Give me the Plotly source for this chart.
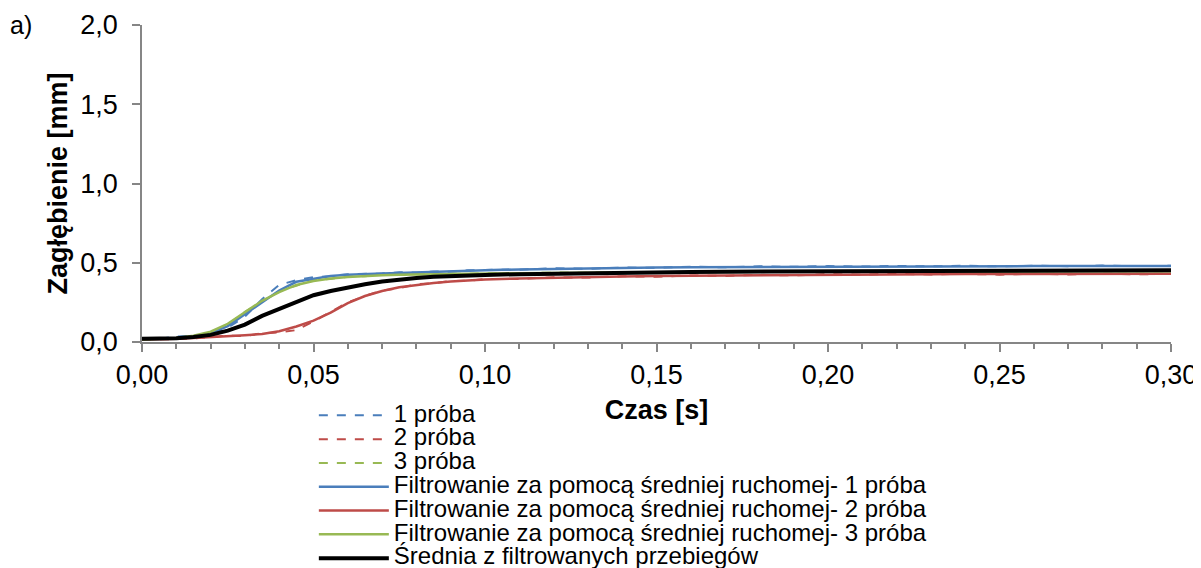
import plotly.graph_objects as go

# ---- data ----
czas = [0.000, 0.005, 0.010, 0.015, 0.020, 0.025, 0.030, 0.035, 0.040, 0.045,
        0.050, 0.055, 0.060, 0.065, 0.070, 0.075, 0.080, 0.085, 0.090, 0.095,
        0.100, 0.110, 0.120, 0.130, 0.140, 0.150, 0.160, 0.170, 0.180, 0.190,
        0.200, 0.210, 0.220, 0.230, 0.240, 0.250, 0.260, 0.270, 0.280, 0.290,
        0.300]

proba1 = [0.015, 0.020, 0.035, 0.040, 0.050, 0.090, 0.160, 0.270, 0.360, 0.390,
          0.410, 0.415, 0.428, 0.430, 0.432, 0.440, 0.437, 0.445, 0.443, 0.452,
          0.455, 0.456, 0.465, 0.462, 0.470, 0.468, 0.475, 0.471, 0.478, 0.474,
          0.479, 0.476, 0.480, 0.477, 0.481, 0.477, 0.481, 0.478, 0.482, 0.479,
          0.481]

proba2 = [0.015, 0.015, 0.018, 0.022, 0.030, 0.040, 0.038, 0.055, 0.060, 0.075,
          0.130, 0.190, 0.250, 0.290, 0.325, 0.340, 0.365, 0.370, 0.385, 0.386,
          0.397, 0.398, 0.408, 0.407, 0.415, 0.412, 0.420, 0.417, 0.424, 0.420,
          0.428, 0.424, 0.430, 0.426, 0.430, 0.425, 0.431, 0.426, 0.431, 0.427,
          0.430]

proba3 = [0.015, 0.017, 0.022, 0.035, 0.060, 0.110, 0.190, 0.255, 0.320, 0.355,
          0.390, 0.398, 0.412, 0.415, 0.423, 0.422, 0.428, 0.427, 0.432, 0.430,
          0.434, 0.433, 0.438, 0.437, 0.441, 0.439, 0.443, 0.441, 0.444, 0.442,
          0.445, 0.443, 0.446, 0.444, 0.447, 0.445, 0.447, 0.445, 0.448, 0.446,
          0.447]

filtr1 = [0.015, 0.018, 0.024, 0.034, 0.055, 0.100, 0.175, 0.250, 0.325, 0.380,
          0.400, 0.416, 0.425, 0.430, 0.432, 0.435, 0.439, 0.442, 0.445, 0.449,
          0.453, 0.458, 0.462, 0.465, 0.468, 0.470, 0.472, 0.473, 0.475, 0.476,
          0.477, 0.477, 0.478, 0.478, 0.478, 0.479, 0.479, 0.479, 0.480, 0.480,
          0.480]

filtr2 = [0.015, 0.016, 0.020, 0.025, 0.030, 0.036, 0.043, 0.050, 0.068, 0.098,
          0.135, 0.185, 0.245, 0.290, 0.322, 0.345, 0.360, 0.372, 0.381, 0.388,
          0.394, 0.401, 0.406, 0.410, 0.413, 0.416, 0.418, 0.420, 0.422, 0.424,
          0.426, 0.427, 0.428, 0.428, 0.429, 0.429, 0.429, 0.430, 0.430, 0.430,
          0.430]

filtr3 = [0.015, 0.018, 0.025, 0.040, 0.065, 0.115, 0.185, 0.260, 0.315, 0.360,
          0.385, 0.400, 0.410, 0.417, 0.421, 0.424, 0.426, 0.428, 0.430, 0.431,
          0.432, 0.434, 0.436, 0.438, 0.439, 0.440, 0.441, 0.442, 0.443, 0.443,
          0.444, 0.444, 0.445, 0.445, 0.445, 0.446, 0.446, 0.446, 0.446, 0.447,
          0.447]

srednia = [0.020, 0.021, 0.024, 0.032, 0.045, 0.072, 0.110, 0.165, 0.210, 0.250,
           0.295, 0.322, 0.345, 0.364, 0.382, 0.395, 0.404, 0.411, 0.416, 0.420,
           0.423, 0.428, 0.432, 0.435, 0.438, 0.440, 0.442, 0.444, 0.445, 0.446,
           0.447, 0.448, 0.449, 0.449, 0.450, 0.450, 0.451, 0.451, 0.451, 0.452,
           0.452]

nazwy = ["1 próba", "2 próba", "3 próba",
         "Filtrowanie za pomocą średniej ruchomej- 1 próba",
         "Filtrowanie za pomocą średniej ruchomej- 2 próba",
         "Filtrowanie za pomocą średniej ruchomej- 3 próba",
         "Średnia z filtrowanych przebiegów"]

NIEBIESKI = "#4A7EBB"
CZERWONY = "#BE4B48"
ZIELONY = "#98B954"
CZARNY = "#000000"

serie = [
    (proba1, NIEBIESKI, "dash", 2.0),
    (proba2, CZERWONY, "dash", 2.0),
    (proba3, ZIELONY, "dash", 2.0),
    (filtr1, NIEBIESKI, "solid", 2.5),
    (filtr2, CZERWONY, "solid", 2.5),
    (filtr3, ZIELONY, "solid", 2.5),
    (srednia, CZARNY, "solid", 4.0),
]

FONT = "Liberation Sans, Arial, sans-serif"

fig = go.Figure()
for (vals, col, dash, w), name in zip(serie, nazwy):
    fig.add_trace(go.Scatter(
        x=czas, y=vals, mode="lines",
        name='<span style="font-size:24px">' + name + '</span>',
        line=dict(color=col, dash=dash, width=w),
    ))

AXC = "#868686"
# the page places the figure 8 px from the top-left corner of the window
fig.update_layout(
    width=1193, height=560,
    paper_bgcolor="white", plot_bgcolor="white",
    separators=", ",
    font=dict(family=FONT, color="#000000", size=24),
    margin=dict(l=134, r=30, t=17, b=226, autoexpand=False),
    showlegend=True,
    legend=dict(
        x=0.167, y=-0.178, xanchor="left", yanchor="top",
        font=dict(size=16, family=FONT, color="#000000"),
        itemwidth=70, bgcolor="rgba(0,0,0,0)",
        tracegroupgap=0,
    ),
    xaxis=dict(
        range=[0, 0.30], tick0=0, dtick=0.05, tickformat=".2f",
        showgrid=False, zeroline=False, automargin=False,
        showline=True, linecolor=AXC, linewidth=1.5,
        ticks="outside", ticklen=8, tickcolor=AXC, tickwidth=1.5,
        ticklabelstandoff=0,
        tickfont=dict(size=27, family=FONT, color="#000000"),
        minor=dict(dtick=0.01, ticks="outside", ticklen=5, tickcolor=AXC, tickwidth=1.5),
        title=dict(text="<b>Czas [s]</b>", standoff=11,
                   font=dict(size=27, family=FONT, color="#000000")),
    ),
    yaxis=dict(
        range=[0, 2.0], tick0=0, dtick=0.5, tickformat=".1f",
        showgrid=False, zeroline=False, automargin=False,
        showline=True, linecolor=AXC, linewidth=1.5,
        ticks="outside", ticklen=8, tickcolor=AXC, tickwidth=1.5,
        ticklabelstandoff=9,
        tickfont=dict(size=27, family=FONT, color="#000000"),
        title=dict(text="<b>Zagłębienie [mm]</b>", standoff=5,
                   font=dict(size=27, family=FONT, color="#000000")),
    ),
    annotations=[dict(
        text="a)", xref="paper", yref="paper", x=-0.13, y=1.0,
        xanchor="left", yanchor="middle", showarrow=False,
        font=dict(size=25, family=FONT, color="#000000"),
    )],
)

fig.write_html("out.html")
